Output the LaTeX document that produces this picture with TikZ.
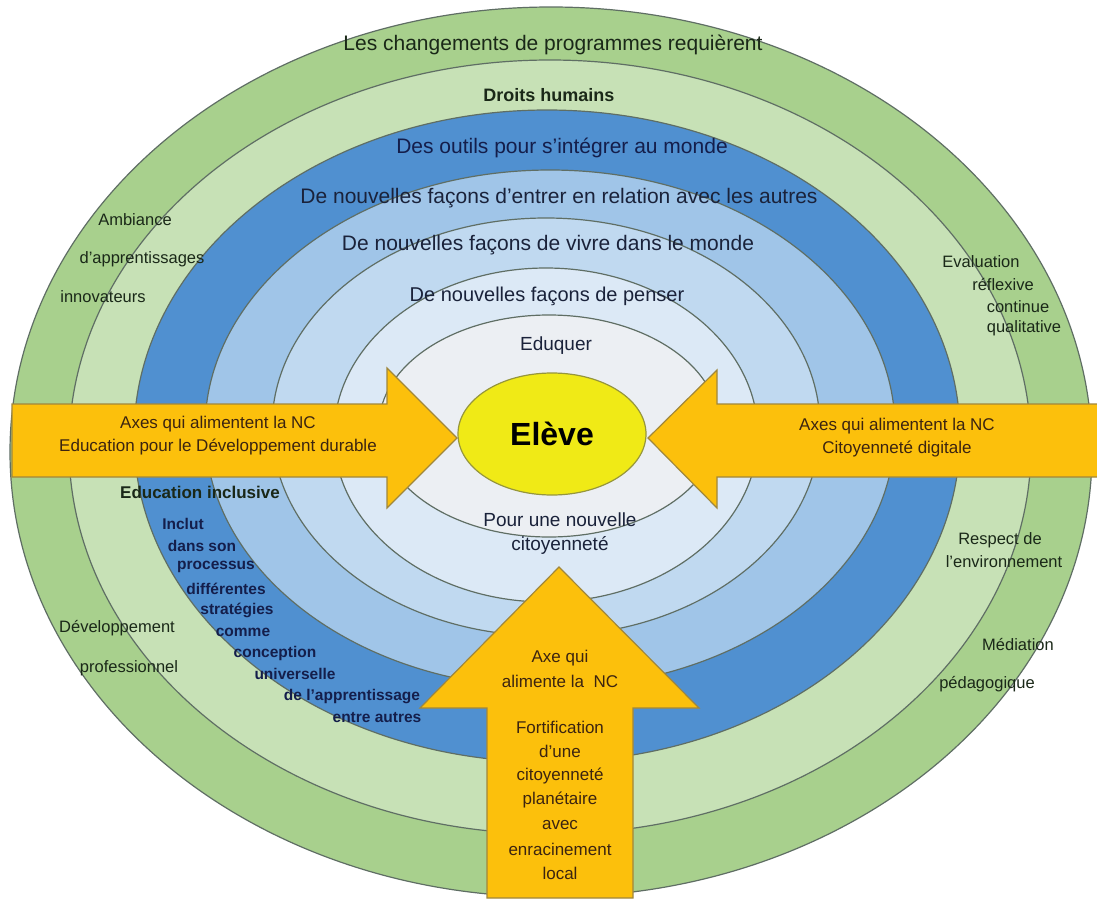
\documentclass[tikz,border=0pt]{standalone}
\usepackage{fontspec}
\setmainfont{Liberation Sans}
\usetikzlibrary{shapes.geometric}
\definecolor{cRa}{RGB}{168,208,141}
\definecolor{cRb}{RGB}{199,225,182}
\definecolor{cRc}{RGB}{80,144,208}
\definecolor{cRd}{RGB}{160,197,232}
\definecolor{cRe}{RGB}{192,217,240}
\definecolor{cRf}{RGB}{220,233,246}
\definecolor{cRg}{RGB}{236,239,243}
\definecolor{ringline}{RGB}{95,110,100}
\definecolor{eleveyel}{RGB}{240,234,22}
\definecolor{eleveline}{RGB}{150,150,60}
\definecolor{arrowfill}{RGB}{252,192,12}
\definecolor{arrowline}{RGB}{160,135,60}
\definecolor{bluetext}{RGB}{26,34,58}
\definecolor{navytext}{RGB}{20,30,75}
\definecolor{greentext}{RGB}{26,40,24}
\definecolor{browntext}{RGB}{60,36,16}
\begin{document}
\begin{tikzpicture}[x=1pt,y=-1pt,
  ring/.style={draw=ringline, line width=1.2pt},
  yarrow/.style={draw=arrowline, line width=1.2pt, fill=arrowfill, line join=miter},
  ringtxt/.style={inner sep=0pt, text=bluetext, font=\fontsize{21}{25}\selectfont},
  greentxt/.style={inner sep=0pt, text=greentext, font=\fontsize{16.5}{20}\selectfont},
  navytxt/.style={inner sep=0pt, text=navytext, font=\bfseries\fontsize{15.5}{19}\selectfont},
  arrtxt/.style={inner sep=0pt, text=browntext, align=center, font=\fontsize{17}{23}\selectfont},
  vtxt/.style={inner sep=0pt, text=browntext, font=\fontsize{17}{20}\selectfont}]
\useasboundingbox (0,0) rectangle (1097,899);
\fill[white] (0,0) rectangle (1097,899);
% rings
\draw[ring, fill=cRa] (551,452) ellipse [x radius=541pt, y radius=445pt];
\draw[ring, fill=cRb] (550,447) ellipse [x radius=481pt, y radius=387pt];
\draw[ring, fill=cRc] (547,436) ellipse [x radius=413pt, y radius=326pt];
\draw[ring, fill=cRd] (550,429) ellipse [x radius=345pt, y radius=259pt];
\draw[ring, fill=cRe] (546,427) ellipse [x radius=274pt, y radius=209pt];
\draw[ring, fill=cRf] (546,435) ellipse [x radius=212pt, y radius=167pt];
\draw[ring, fill=cRg] (549,426) ellipse [x radius=170pt, y radius=111pt];
% centre
\node[ellipse, draw=eleveline, line width=1.2pt, fill=eleveyel, minimum width=188pt, minimum height=122pt, inner sep=0pt,
      font=\bfseries\fontsize{32}{36}\selectfont, text=black] (eleve) at (552,434) {Elève};
% arrows
\draw[yarrow] (12,404) -- (387,404) -- (387,368) -- (457,438) -- (387,508) -- (387,477) -- (12,477) -- cycle;
\draw[yarrow] (1104,404) -- (717,404) -- (717,370) -- (648,438) -- (717,508) -- (717,477) -- (1104,477) -- cycle;
\draw[yarrow] (487,898) -- (487,708) -- (420,708) -- (559,567) -- (699,708) -- (633,708) -- (633,898) -- cycle;
% ring texts
\node[ringtxt, text=greentext] (t1) at (553,45) {Les changements de programmes requièrent};
\node[ringtxt, text=greentext, font=\bfseries\fontsize{18}{22}\selectfont] (t2) at (549,95) {Droits humains};
\node[ringtxt, text=navytext] (t3) at (562,148) {Des outils pour s'intégrer au monde};
\node[ringtxt] (t4) at (559,198) {De nouvelles façons d'entrer en relation avec les autres};
\node[ringtxt] (t5) at (548,245) {De nouvelles façons de vivre dans le monde};
\node[ringtxt, font=\fontsize{20}{24}\selectfont] (t6) at (547,296) {De nouvelles façons de penser};
\node[ringtxt, font=\fontsize{19}{23}\selectfont] (t7) at (556,346) {Eduquer};
\node[ringtxt, font=\fontsize{19}{24}\selectfont, align=center] (t8) at (560,534) {Pour une nouvelle\\citoyenneté};
% left green texts
\node[greentxt] (g1) at (135,220) {Ambiance};
\node[greentxt] (g2) at (142,259) {d'apprentissages};
\node[greentxt] (g3) at (103,297) {innovateurs};
\node[greentxt] (g4) at (117,628) {Développement};
\node[greentxt] (g5) at (129,668) {professionnel};
% right green texts
\node[greentxt] (r1) at (981,262) {Evaluation};
\node[greentxt] (r2) at (1003,285) {réflexive};
\node[greentxt] (r3) at (1018,307) {continue};
\node[greentxt] (r4) at (1024,328) {qualitative};
\node[greentxt] (r5) at (1000,540) {Respect de};
\node[greentxt] (r6) at (1004,562) {l'environnement};
\node[greentxt] (r7) at (1018,644) {Médiation};
\node[greentxt] (r8) at (987,684) {pédagogique};
% inclusive education
\node[ringtxt, text=greentext, font=\bfseries\fontsize{17}{21}\selectfont] (e0) at (200,492) {Education inclusive};
\node[navytxt] (e1) at (183,524) {Inclut};
\node[navytxt] (e2) at (202,546) {dans son};
\node[navytxt] (e3) at (216,567) {processus};
\node[navytxt] (e4) at (226,589) {différentes};
\node[navytxt] (e5) at (237,610) {stratégies};
\node[navytxt] (e6) at (243,632) {comme};
\node[navytxt] (e7) at (275,653) {conception};
\node[navytxt] (e8) at (295,674) {universelle};
\node[navytxt] (e9) at (352,697) {de l'apprentissage};
\node[navytxt] (e10) at (377,718) {entre autres};
% arrow texts
\node[arrtxt] (la) at (218,436) {Axes qui alimentent la NC\\Education pour le Développement durable};
\node[arrtxt] (ra) at (897,438) {Axes qui alimentent la NC\\Citoyenneté digitale};
\node[vtxt] (b1) at (560,658) {Axe qui};
\node[vtxt] (b2) at (560,681) {alimente la\ \ NC};
\node[vtxt] (b3) at (560,727) {Fortification};
\node[vtxt] (b4) at (560,751) {d'une};
\node[vtxt] (b5) at (560,776) {citoyenneté};
\node[vtxt] (b6) at (560,800) {planétaire};
\node[vtxt] (b7) at (560,825) {avec};
\node[vtxt] (b8) at (560,849) {enracinement};
\node[vtxt] (b9) at (560,873) {local};
\end{tikzpicture}
\end{document}
